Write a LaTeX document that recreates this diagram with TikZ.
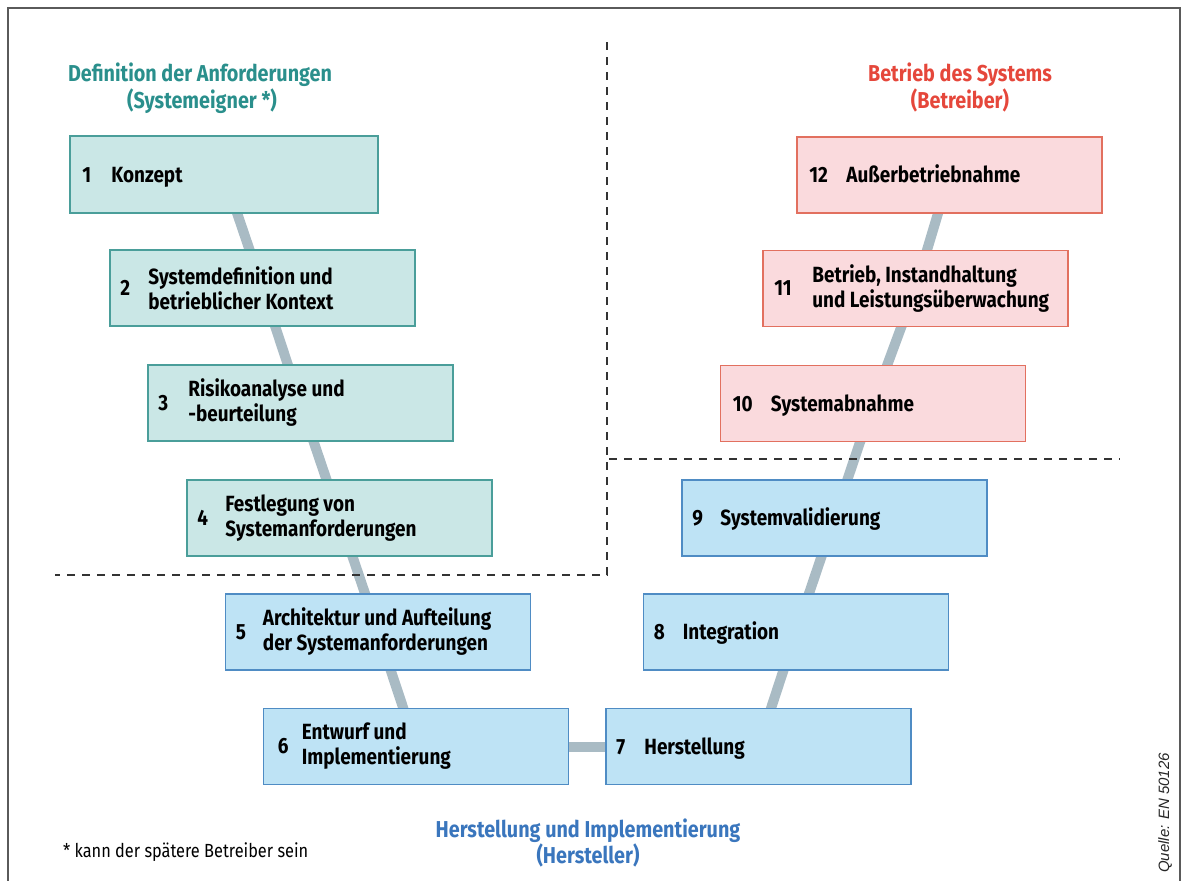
\documentclass[tikz,border=0pt]{standalone}
\usepackage{fontspec}
\setmainfont{Fira Sans}
\newfontfamily\condf[FakeStretch=0.86]{Fira Sans}
\newfontfamily\arialf{Liberation Sans}
\definecolor{tealfill}{HTML}{CAE7E6}
\definecolor{tealdraw}{HTML}{4A9E9A}
\definecolor{bluefill}{HTML}{BEE3F5}
\definecolor{bluedraw}{HTML}{4F8CC4}
\definecolor{pinkfill}{HTML}{FADADD}
\definecolor{pinkdraw}{HTML}{E2705F}
\definecolor{conncol}{HTML}{A9BBC4}
\definecolor{tealtitle}{HTML}{2A8F8C}
\definecolor{redtitle}{HTML}{E5473B}
\definecolor{bluetitle}{HTML}{3A76BD}
\definecolor{dashcol}{HTML}{333333}
\definecolor{framecol}{HTML}{5A5A5A}
\pgfdeclarelayer{bg}
\pgfsetlayers{bg,main}
\tikzset{
  box/.style={rectangle, minimum width=305bp, minimum height=76bp, inner sep=0pt, line width=1.6bp},
  tbox/.style={box, fill=tealfill, draw=tealdraw},
  bbox/.style={box, fill=bluefill, draw=bluedraw},
  pbox/.style={box, fill=pinkfill, draw=pinkdraw},
  num/.style={inner sep=0pt, font=\condf\bfseries\fontsize{22bp}{25bp}\selectfont},
  txt/.style={inner sep=0pt, align=left, font=\condf\bfseries\fontsize{22bp}{25bp}\selectfont},
  conn/.style={line width=10bp, draw=conncol},
  sepline/.style={dashcol, line width=2.2bp, dash pattern=on 8bp off 7bp},
  title/.style={inner sep=0pt, anchor=base, font=\condf\bfseries\fontsize{23bp}{27bp}\selectfont},
}
\begin{document}
\begin{tikzpicture}[x=1bp,y=-1bp]
\useasboundingbox (0,0) rectangle (1184,881);
% frame
\draw[framecol, line width=2bp] (8,881) -- (8,8) -- (1180,8) -- (1180,881);
% separators
\draw[sepline] (607,42) -- (607,575) -- (55,575);
\draw[sepline] (609,459) -- (1120,459);
% titles
\node[title, text=tealtitle] (ta1) at (200,81) {Definition der Anforderungen};
\node[title, text=tealtitle] (ta2) at (202,108) {(Systemeigner *)};
\node[title, text=redtitle] (tb1) at (960,81) {Betrieb des Systems};
\node[title, text=redtitle] (tb2) at (960,108) {(Betreiber)};
\node[title, text=bluetitle] (tc1) at (588,837) {Herstellung und Implementierung};
\node[title, text=bluetitle] (tc2) at (588,863) {(Hersteller)};
% boxes
\node[tbox, minimum width=308bp, minimum height=77bp] (b1) at (224,174.5) {};
\node[tbox] (b2) at (262.5,288) {};
\node[tbox] (b3) at (300.5,403) {};
\node[tbox] (b4) at (339.5,518) {};
\node[bbox] (b5) at (378,632) {};
\node[bbox] (b6) at (416,746.5) {};
\node[bbox] (b7) at (758.5,746.5) {};
\node[bbox] (b8) at (796,632) {};
\node[bbox] (b9) at (834.5,518) {};
\node[pbox] (b10) at (873,403.5) {};
\node[pbox] (b11) at (915.5,288.5) {};
\node[pbox] (b12) at (949.5,175) {};
% connectors
\begin{pgfonlayer}{bg}
\draw[conn] (b1.center) -- (b2.center);
\draw[conn] (b2.center) -- (b3.center);
\draw[conn] (b3.center) -- (b4.center);
\draw[conn] (b4.center) -- (b5.center);
\draw[conn] (b5.center) -- (b6.center);
\draw[conn] (b6.center) -- (b7.center);
\draw[conn] (b7.center) -- (b8.center);
\draw[conn] (b8.center) -- (b9.center);
\draw[conn] (b9.center) -- (b10.center);
\draw[conn] (b10.center) -- (b11.center);
\draw[conn] (b11.center) -- (b12.center);
\end{pgfonlayer}
% box texts
\node[num, anchor=base west] (n1) at ([xshift=13bp,yshift=-7.5bp]b1.west) {1};
\node[txt, anchor=base west] (x1) at ([xshift=42bp,yshift=-7.5bp]b1.west) {Konzept};
\node[num, anchor=west] (n2) at ([xshift=11bp]b2.west) {2};
\node[txt, anchor=west] (x2) at ([xshift=39bp]b2.west) {Systemdefinition und\\betrieblicher Kontext};
\node[num, anchor=west] (n3) at ([xshift=11bp]b3.west) {3};
\node[txt, anchor=west] (x3) at ([xshift=41bp]b3.west) {Risikoanalyse und\\-beurteilung};
\node[num, anchor=west] (n4) at ([xshift=11bp]b4.west) {4};
\node[txt, anchor=west] (x4) at ([xshift=39bp]b4.west) {Festlegung von\\Systemanforderungen};
\node[num, anchor=west] (n5) at ([xshift=11bp]b5.west) {5};
\node[txt, anchor=west] (x5) at ([xshift=38bp]b5.west) {Architektur und Aufteilung\\der Systemanforderungen};
\node[num, anchor=west] (n6) at ([xshift=15bp]b6.west) {6};
\node[txt, anchor=west] (x6) at ([xshift=39bp]b6.west) {Entwurf und\\Implementierung};
\node[num, anchor=base west] (n7) at ([xshift=11bp,yshift=-7.5bp]b7.west) {7};
\node[txt, anchor=base west] (x7) at ([xshift=39bp,yshift=-7.5bp]b7.west) {Herstellung};
\node[num, anchor=base west] (n8) at ([xshift=11bp,yshift=-7.5bp]b8.west) {8};
\node[txt, anchor=base west] (x8) at ([xshift=40bp,yshift=-7.5bp]b8.west) {Integration};
\node[num, anchor=base west] (n9) at ([xshift=11bp,yshift=-7.5bp]b9.west) {9};
\node[txt, anchor=base west] (x9) at ([xshift=39bp,yshift=-7.5bp]b9.west) {Systemvalidierung};
\node[num, anchor=base west] (n10) at ([xshift=13bp,yshift=-7.5bp]b10.west) {10};
\node[txt, anchor=base west] (x10) at ([xshift=51bp,yshift=-7.5bp]b10.west) {Systemabnahme};
\node[num, anchor=west] (n11) at ([xshift=12bp]b11.west) {11};
\node[txt, anchor=west] (x11) at ([xshift=50bp]b11.west) {Betrieb, Instandhaltung\\und Leistungsüberwachung};
\node[num, anchor=base west] (n12) at ([xshift=13bp,yshift=-7.5bp]b12.west) {12};
\node[txt, anchor=base west] (x12) at ([xshift=50bp,yshift=-7.5bp]b12.west) {Außerbetriebnahme};
% footnote and source
\node[inner sep=0pt, anchor=base west, font=\condf\fontsize{19bp}{22bp}\selectfont] (fn) at (63,857) {* kann der spätere Betreiber sein};
\node[inner sep=0pt, rotate=90, text=black!85, font=\arialf\itshape\fontsize{15bp}{15bp}\selectfont] (src) at (1165,813) {Quelle: EN 50126};
\end{tikzpicture}
\end{document}
